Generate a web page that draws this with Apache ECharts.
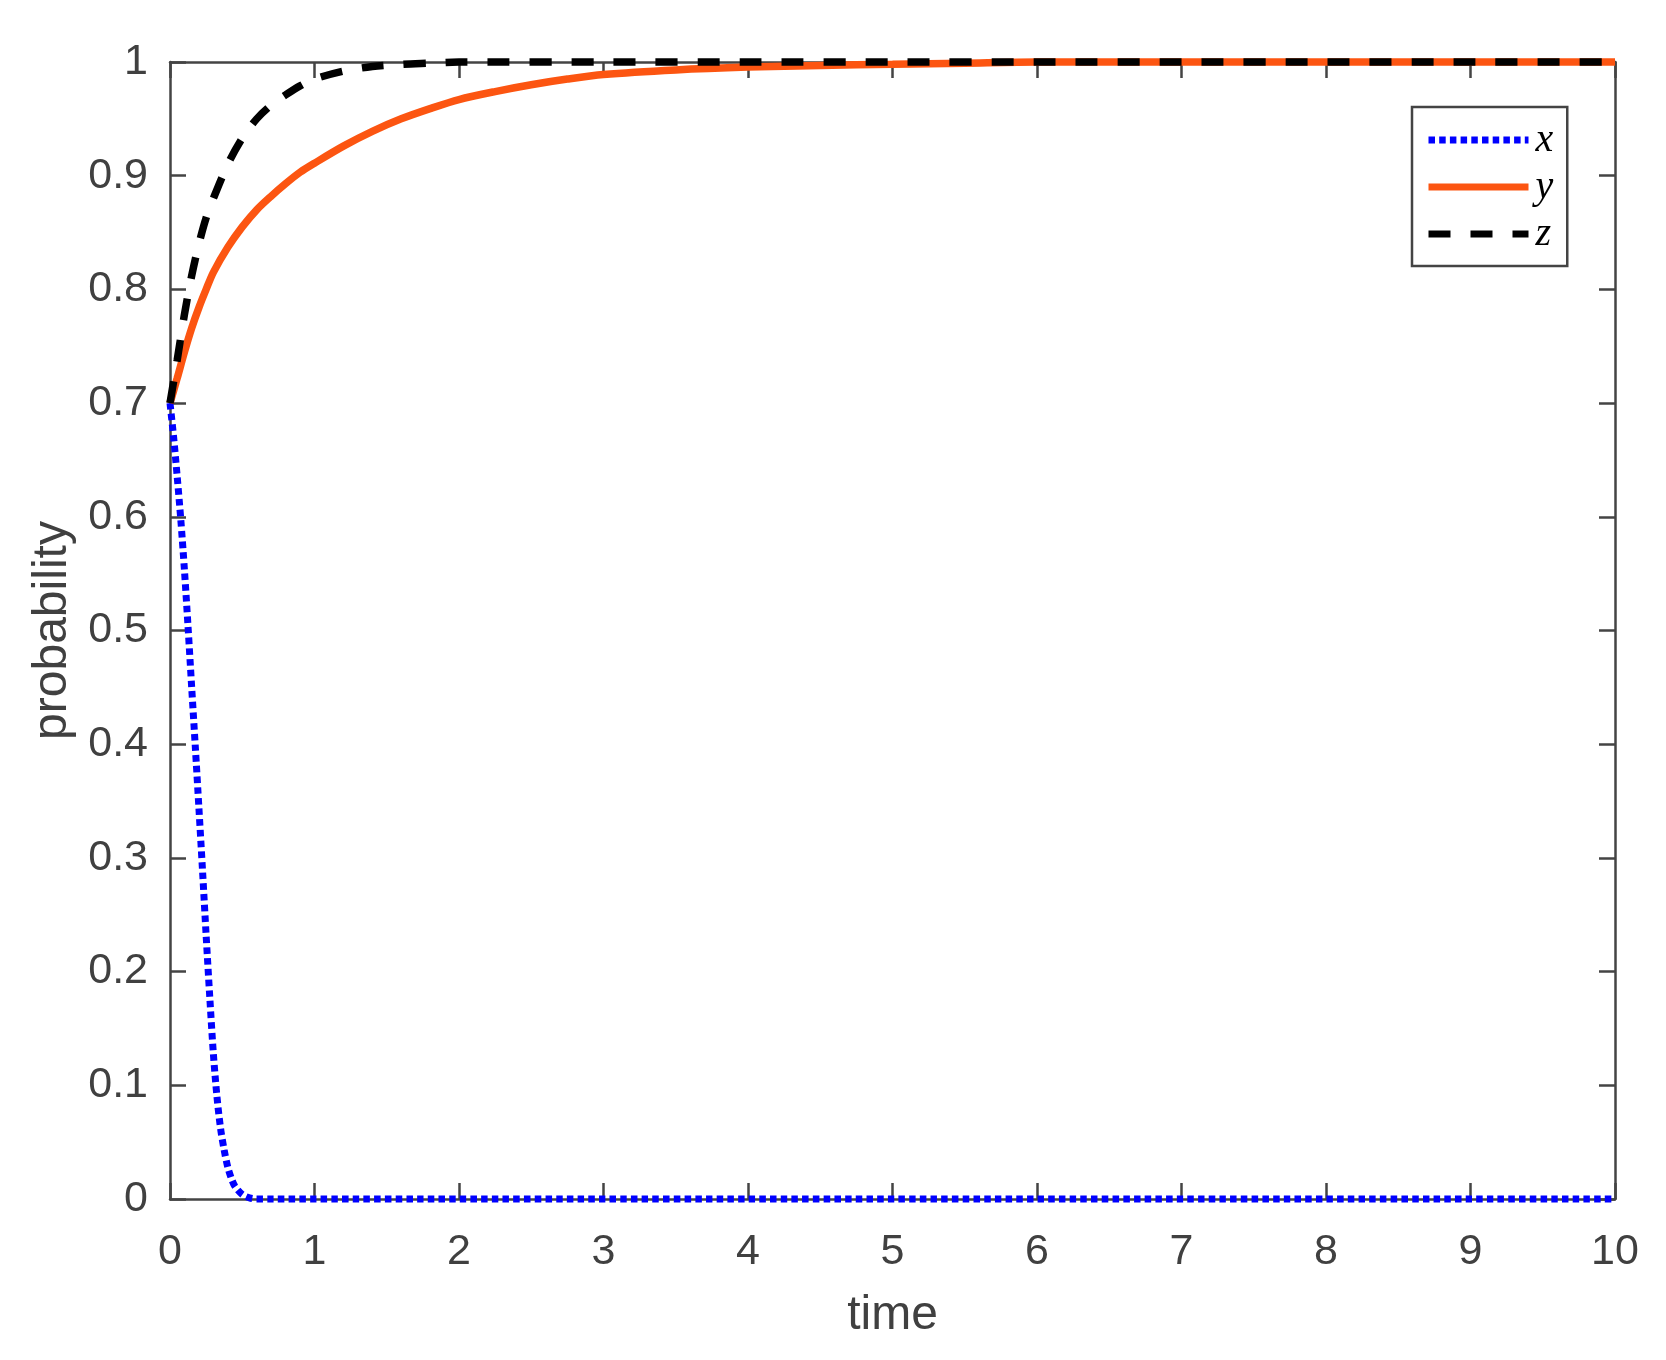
<!DOCTYPE html>
<html>
<head>
<meta charset="utf-8">
<script src="https://cdn.jsdelivr.net/npm/echarts@6/dist/echarts.min.js"></script>
<style>
html,body{margin:0;padding:0;background:#fff;}
#chart{width:1666px;height:1360px;}
</style>
</head>
<body>
<div id="chart"></div>
<script>
// ---- data ----
const seriesNames = ['x', 'y', 'z'];
const xTickLabels = ['0','1','2','3','4','5','6','7','8','9','10'];
const yTickLabels = ['0','0.1','0.2','0.3','0.4','0.5','0.6','0.7','0.8','0.9','1'];

const tX = [0, 0.025, 0.05, 0.075, 0.1, 0.125, 0.15, 0.175, 0.2, 0.225, 0.25, 0.275, 0.3, 0.325, 0.35, 0.375, 0.4, 0.425, 0.45, 0.5, 0.55, 0.6, 0.7, 1, 2, 3, 4, 5, 6, 7, 8, 9, 10];
const xVals = [0.7, 0.670, 0.635, 0.597, 0.553, 0.503, 0.450, 0.398, 0.344, 0.289, 0.232, 0.178, 0.128, 0.090, 0.062, 0.043, 0.028, 0.018, 0.011, 0.004, 0.001, 0, 0, 0, 0, 0, 0, 0, 0, 0, 0, 0, 0];

const tY = [0, 0.05, 0.1, 0.15, 0.2, 0.25, 0.3, 0.4, 0.5, 0.6, 0.7, 0.8, 0.9, 1.0, 1.2, 1.4, 1.6, 1.8, 2.0, 2.25, 2.5, 2.75, 3.0, 3.5, 4.0, 4.5, 5.0, 5.5, 6, 7, 8, 9, 10];
const yVals = [0.7, 0.722, 0.745, 0.766, 0.784, 0.800, 0.815, 0.837, 0.855, 0.870, 0.882, 0.893, 0.903, 0.911, 0.926, 0.939, 0.950, 0.959, 0.967, 0.974, 0.980, 0.985, 0.989, 0.993, 0.9955, 0.997, 0.998, 0.999, 1, 1, 1, 1, 1];

const tZ = [0, 0.05, 0.1, 0.15, 0.2, 0.25, 0.3, 0.4, 0.5, 0.6, 0.7, 0.8, 0.9, 1.0, 1.2, 1.4, 1.6, 1.8, 2, 3, 4, 5, 6, 7, 8, 9, 10];
const zVals = [0.7, 0.738, 0.778, 0.812, 0.840, 0.863, 0.880, 0.910, 0.933, 0.950, 0.962, 0.971, 0.979, 0.985, 0.992, 0.996, 0.998, 0.999, 1, 1, 1, 1, 1, 1, 1, 1, 1];

// ---- helpers ----
const zip = (a, b) => a.map((v, i) => [v, b[i]]);
const axisColor = '#444444';
const tickFont = { color: '#404040', fontSize: 43, fontFamily: 'Liberation Sans, Arial, sans-serif' };
const nameFont = { color: '#404040', fontSize: 48, fontFamily: 'Liberation Sans, Arial, sans-serif' };
const axisLineStyle = { color: axisColor, width: 2.5 };

const chart = echarts.init(document.getElementById('chart'), null, { renderer: 'canvas' });
chart.setOption({
  animation: false,
  backgroundColor: '#ffffff',
  grid: { left: 170, right: 51, top: 62, bottom: 161, containLabel: false, outerBoundsMode: 'none' },
  legend: {
    orient: 'vertical',
    left: 1412, top: 107,
    padding: [13, 14, 12, 13],
    itemWidth: 100, itemHeight: 14, itemGap: 7,
    borderColor: '#444444', borderWidth: 2.5, borderRadius: 0,
    backgroundColor: '#ffffff',
    data: seriesNames,
    lineStyle: { width: 7 },
    itemStyle: { opacity: 0 },
    textStyle: { fontFamily: 'Liberation Serif, serif', fontStyle: 'italic', fontSize: 40, lineHeight: 36, color: '#000', padding: [0, 0, 0, 2] },
    selectedMode: false
  },
  xAxis: [{
    type: 'value', min: 0, max: 10, interval: 1, position: 'bottom',
    name: 'time', nameLocation: 'middle', nameGap: 93,
    nameTextStyle: nameFont,
    axisLine: { show: true, onZero: false, lineStyle: axisLineStyle },
    axisTick: { show: true, inside: true, length: 16, lineStyle: axisLineStyle },
    axisLabel: Object.assign({ margin: 32, formatter: v => xTickLabels[Math.round(v)] }, tickFont),
    splitLine: { show: false }
  }, {
    type: 'value', min: 0, max: 10, interval: 1, position: 'top',
    axisLine: { show: true, onZero: false, lineStyle: axisLineStyle },
    axisTick: { show: true, inside: true, length: 16, lineStyle: axisLineStyle },
    axisLabel: { show: false }, splitLine: { show: false }
  }],
  yAxis: [{
    type: 'value', min: 0, max: 1, interval: 0.1, position: 'left',
    name: 'probability', nameLocation: 'middle', nameGap: 93,
    nameTextStyle: nameFont,
    axisLine: { show: true, onZero: false, lineStyle: axisLineStyle },
    axisTick: { show: true, inside: true, length: 16, lineStyle: axisLineStyle },
    axisLabel: Object.assign({ margin: 22, formatter: v => yTickLabels[Math.round(v * 10)] }, tickFont),
    splitLine: { show: false }
  }, {
    type: 'value', min: 0, max: 1, interval: 0.1, position: 'right',
    axisLine: { show: true, onZero: false, lineStyle: axisLineStyle },
    axisTick: { show: true, inside: true, length: 16, lineStyle: axisLineStyle },
    axisLabel: { show: false }, splitLine: { show: false }
  }],
  series: [{
    name: 'x', type: 'line', data: zip(tX, xVals), showSymbol: false, symbol: 'none',
    smooth: 0.3, clip: false,
    lineStyle: { color: '#0000ff', width: 7, type: [6.5, 4.2], cap: 'butt' },
    itemStyle: { color: '#0000ff' }
  }, {
    name: 'y', type: 'line', data: zip(tY, yVals), showSymbol: false, symbol: 'none',
    smooth: 0.3, clip: false,
    lineStyle: { color: '#fc5511', width: 7.5, type: 'solid' },
    itemStyle: { color: '#fc5511' }
  }, {
    name: 'z', type: 'line', data: zip(tZ, zVals), showSymbol: false, symbol: 'none',
    smooth: 0.3, clip: false,
    lineStyle: { color: '#000000', width: 7.5, type: [22, 20], cap: 'butt' },
    itemStyle: { color: '#000000' }
  }]
});
</script>
</body>
</html>
